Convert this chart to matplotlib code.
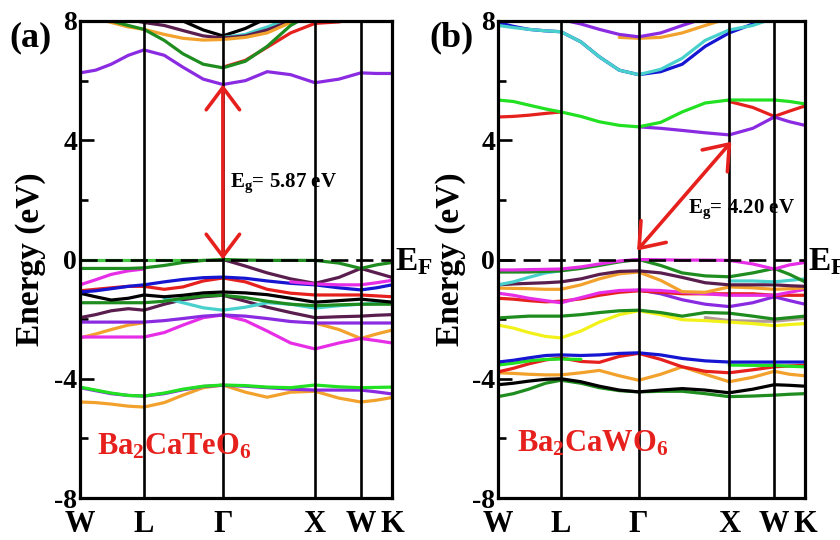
import numpy as np
import matplotlib.pyplot as plt
from matplotlib.ticker import MultipleLocator

plt.rcParams['font.family'] = 'Liberation Serif'
plt.rcParams['font.weight'] = 'bold'
plt.rcParams['axes.unicode_minus'] = False
plt.rcParams['mathtext.fontset'] = 'custom'
plt.rcParams['mathtext.rm'] = 'Liberation Serif:bold'
plt.rcParams['mathtext.it'] = 'Liberation Serif:bold'
plt.rcParams['mathtext.bf'] = 'Liberation Serif:bold'

nan = np.nan

# k-path sample points (W L G X W K at 0, 0.205, 0.458, 0.753, 0.90, 1.0)
k = [0, 0.05, 0.10, 0.155, 0.205, 0.27, 0.33, 0.395, 0.458, 0.53, 0.60, 0.675, 0.753, 0.83, 0.90, 0.95, 1.0]
sym_k = [0, 0.205, 0.458, 0.753, 0.90, 1.0]
sym_labels = ['W', 'L', 'Γ', 'X', 'W', 'K']

# colours
violet = '#8a2be2'
dgreen = '#1e8c1e'
bgreen = '#22e022'
lgreen = '#44c844'
red = '#e6201c'
orange = '#f2a22c'
maroon = '#5a1e4e'
cyan = '#48d0cc'
magenta = '#e62ee6'
blue = '#1515d2'
yellow = '#f2f21a'
tan = '#b09a9a'

# ---- (a) Ba2CaTeO6 ----
a_violet_c = [6.26, 6.35, 6.55, 6.85, 7.03, 6.85, 6.45, 6.05, 5.87, 6.0, 6.3, 6.2, 5.93, 6.05, 6.26, 6.24, 6.24]
a_green_c = [8.4, 8.2, 8.0, 7.85, 7.72, 7.35, 6.9, 6.55, 6.43, 6.65, 7.15, 7.85, 8.3, nan, nan, nan, nan]
a_red_c = [nan, nan, nan, nan, nan, nan, nan, nan, 6.45, 6.68, 7.12, 7.6, 7.92, 7.97, 8.1, 8.2, 8.3]
a_orange_c = [8.3, 8.1, 7.95, 7.8, 7.72, 7.55, 7.42, 7.36, 7.38, 7.45, 7.6, 7.95, 8.3, nan, nan, nan, nan]
a_maroon_c = [nan, nan, 8.2, 8.05, 7.95, 7.85, 7.68, 7.5, 7.43, 7.5, 7.7, 8.0, 8.3, nan, nan, nan, nan]
a_black_c = [nan, nan, nan, nan, nan, 8.2, 8.0, 7.7, 7.5, 7.75, 8.1, nan, nan, nan, nan, nan, nan]
a_cyan_c = [nan, nan, nan, nan, nan, nan, nan, nan, 7.45, 7.55, 7.8, 8.1, nan, nan, nan, nan, nan]

a_lgreen_v = [-0.03, -0.03, -0.03, -0.03, -0.03, -0.03, -0.03, -0.03, nan, nan, nan, nan, nan, nan, nan, nan, nan]
a_green_v = [-0.3, -0.3, -0.3, -0.3, -0.28, -0.2, -0.1, -0.03, 0.0, -0.02, -0.03, -0.03, -0.03, -0.12, -0.3, -0.18, -0.1]
a_magenta_v = [-0.85, -0.68, -0.5, -0.38, -0.32, nan, nan, nan, nan, nan, nan, -0.75, -0.82, -0.85, -0.85, -0.78, -0.7]
a_maroon_v = [nan, nan, nan, nan, nan, nan, nan, nan, 0.0, -0.22, -0.45, -0.65, -0.8, -0.6, -0.3, -0.45, -0.6]
a_blue_v = [-1.09, -1.05, -0.98, -0.9, -0.85, -0.75, -0.67, -0.61, -0.59, -0.63, -0.72, -0.8, -0.85, -0.95, -1.02, -0.95, -0.85]
a_red_v = [-1.05, -1.0, -0.95, -0.9, -0.9, -1.0, -0.92, -0.72, -0.62, -0.75, -1.0, -1.13, -1.19, -1.19, -1.19, -1.22, -1.25]
a_black_v = [-1.13, -1.25, -1.36, -1.3, -1.19, -1.25, -1.2, -1.12, -1.09, -1.12, -1.18, -1.3, -1.43, -1.38, -1.33, -1.38, -1.43]
a_green_v2 = [-1.45, -1.45, -1.45, -1.45, -1.45, -1.4, -1.3, -1.22, -1.2, -1.28, -1.4, -1.5, -1.55, -1.52, -1.5, -1.5, -1.5]
a_cyan_v = [nan, nan, nan, nan, nan, -1.3, -1.45, -1.62, -1.7, -1.6, -1.45, -1.5, -1.63, -1.55, -1.5, -1.47, -1.45]
a_maroon_v2 = [-1.95, -1.85, -1.72, -1.65, -1.7, -1.5, -1.35, -1.25, -1.2, -1.4, -1.6, -1.78, -1.95, -1.92, -1.9, -1.87, -1.85]
a_violet_v = [-2.1, -2.1, -2.1, -2.1, -2.1, -2.05, -1.98, -1.9, -1.86, -1.9, -1.98, -2.08, -2.13, -2.13, -2.13, -2.13, -2.13]
a_magenta_v2 = [-2.6, -2.6, -2.6, -2.6, -2.6, -2.45, -2.2, -1.95, -1.86, -2.05, -2.4, -2.8, -3.0, -2.8, -2.65, -2.72, -2.8]
a_orange_v = [-2.63, -2.5, -2.35, -2.2, -2.12, nan, nan, nan, nan, nan, nan, nan, -2.13, -2.35, -2.65, -2.5, -2.37]
a_violet_v2 = [-4.3, -4.4, -4.5, -4.56, -4.58, -4.5, -4.37, -4.26, -4.22, -4.25, -4.3, -4.35, -4.38, -4.38, -4.38, -4.44, -4.51]
a_bgreen_v = [-4.28, -4.38, -4.48, -4.56, -4.58, -4.48, -4.35, -4.25, -4.21, -4.23, -4.28, -4.3, -4.21, -4.27, -4.3, -4.29, -4.28]
a_orange_v2 = [-4.78, -4.8, -4.85, -4.92, -4.95, -4.8, -4.55, -4.3, -4.21, -4.45, -4.62, -4.45, -4.42, -4.65, -4.78, -4.72, -4.63]

bands_a = [
    (a_black_c, 'k'), (a_cyan_c, cyan), (a_maroon_c, maroon), (a_orange_c, orange),
    (a_red_c, red), (a_green_c, dgreen), (a_violet_c, violet),
    (a_lgreen_v, lgreen), (a_orange_v, orange), (a_magenta_v2, magenta), (a_violet_v, violet),
    (a_maroon_v2, maroon), (a_cyan_v, cyan), (a_green_v2, dgreen), (a_black_v, 'k'),
    (a_red_v, red), (a_blue_v, blue), (a_maroon_v, maroon), (a_magenta_v, magenta),
    (a_green_v, dgreen), (a_orange_v2, orange), (a_violet_v2, violet), (a_bgreen_v, bgreen),
]

# ---- (b) Ba2CaWO6 ----
b_blue_c = [7.95, 7.82, 7.72, 7.67, 7.64, 7.3, 6.8, 6.35, 6.2, 6.3, 6.55, 7.15, 7.6, 7.9, 8.1, nan, nan]
b_cyan_c = [7.85, 7.78, 7.72, 7.67, 7.64, 7.3, 6.8, 6.35, 6.2, 6.38, 6.75, 7.35, 7.7, 7.85, 8.1, nan, nan]
b_violet_c2 = [nan, nan, nan, 8.2, 8.05, 7.9, 7.72, 7.55, 7.47, 7.6, 7.85, 8.1, nan, nan, nan, nan, nan]
b_orange_c = [nan, nan, nan, nan, nan, nan, nan, 7.45, 7.42, 7.45, 7.6, 7.85, 8.1, nan, nan, nan, nan]
b_red_c = [4.78, 4.8, 4.84, 4.9, 4.95, nan, nan, nan, nan, nan, nan, nan, 5.3, 5.1, 4.8, 4.98, 5.15]
b_violet_c = [nan, nan, nan, nan, nan, nan, nan, nan, 4.45, 4.4, 4.33, 4.25, 4.18, 4.4, 4.78, 4.62, 4.5]
b_bgreen_c = [5.35, 5.3, 5.18, 5.05, 4.95, 4.8, 4.62, 4.5, 4.45, 4.6, 4.95, 5.25, 5.35, 5.35, 5.35, 5.3, 5.22]

b_magenta_v = [-0.35, -0.35, -0.34, -0.33, -0.32, -0.25, -0.15, -0.05, 0.0, -0.01, -0.02, -0.02, -0.03, -0.15, -0.32, -0.18, -0.1]
b_green_v = [-0.42, -0.42, -0.42, -0.4, -0.38, -0.3, -0.2, -0.08, 0.0, -0.2, -0.45, -0.55, -0.58, -0.45, -0.3, -0.5, -0.75]
b_cyan_v = [-0.85, -0.75, -0.6, -0.45, -0.38, nan, nan, nan, nan, nan, nan, nan, -0.72, -0.72, -0.75, -0.7, -0.65]
b_maroon_v = [-0.85, -0.82, -0.8, -0.78, -0.75, -0.65, -0.5, -0.4, -0.38, -0.45, -0.6, -0.78, -0.85, -0.85, -0.85, -0.88, -0.9]
b_orange_v = [-0.96, -0.97, -0.98, -1.0, -1.0, -0.85, -0.65, -0.48, -0.42, -0.7, -1.08, -1.1, -0.92, -0.95, -1.0, -0.98, -0.95]
b_magenta_v2 = [-1.13, -1.2, -1.3, -1.38, -1.45, -1.28, -1.12, -1.04, -1.02, -1.04, -1.1, -1.15, -1.2, -1.2, -1.2, -1.1, -1.0]
b_red_v = [-1.3, -1.33, -1.38, -1.42, -1.4, -1.32, -1.2, -1.1, -1.05, -1.1, -1.15, -1.15, -1.15, -1.15, -1.2, -1.2, -1.2]
b_violet_v = [nan, nan, nan, nan, nan, nan, nan, nan, -1.02, -1.15, -1.35, -1.5, -1.58, -1.45, -1.25, -1.38, -1.5]
b_dgreen_v = [-1.96, -1.93, -1.9, -1.9, -1.9, -1.85, -1.78, -1.72, -1.7, -1.78, -1.9, -1.78, -1.8, -1.9, -2.0, -1.95, -1.9]
b_tan_v = [nan, nan, nan, nan, nan, nan, nan, nan, nan, nan, nan, -1.95, -2.05, -2.07, -2.07, -2.02, -1.97]
b_yellow_v = [-2.2, -2.3, -2.45, -2.58, -2.63, -2.4, -2.1, -1.85, -1.72, -1.85, -2.02, -2.05, -2.1, -2.15, -2.22, -2.18, -2.15]
b_blue_v = [-3.44, -3.38, -3.3, -3.22, -3.2, -3.22, -3.2, -3.15, -3.13, -3.2, -3.32, -3.4, -3.44, -3.44, -3.44, -3.44, -3.44]
b_bgreen_v = [-3.54, -3.48, -3.4, -3.35, -3.34, -3.35, nan, nan, nan, nan, nan, nan, -3.54, -3.55, -3.55, -3.58, -3.6]
b_red_v2 = [-3.77, -3.65, -3.5, -3.37, -3.3, -3.42, -3.45, -3.25, -3.15, -3.35, -3.6, -3.75, -3.8, -3.7, -3.6, -3.57, -3.55]
b_orange_v2 = [-3.8, -3.82, -3.85, -3.87, -3.87, -3.8, -3.72, -3.9, -4.05, -3.85, -3.6, -3.85, -4.1, -3.95, -3.75, -3.85, -3.9]
b_black_v = [-4.2, -4.15, -4.08, -4.02, -4.0, -4.1, -4.25, -4.38, -4.44, -4.38, -4.33, -4.38, -4.47, -4.35, -4.2, -4.22, -4.25]
b_dgreen_v2 = [-4.6, -4.5, -4.35, -4.15, -4.05, -4.15, -4.3, -4.4, -4.44, -4.42, -4.42, -4.5, -4.6, -4.58, -4.55, -4.52, -4.5]

bands_b = [
    (b_orange_c, orange), (b_violet_c2, violet), (b_blue_c, blue), (b_cyan_c, cyan),
    (b_red_c, red), (b_violet_c, violet), (b_bgreen_c, bgreen),
    (b_tan_v, tan), (b_yellow_v, yellow), (b_dgreen_v, dgreen), (b_violet_v, violet),
    (b_red_v, red), (b_magenta_v2, magenta), (b_orange_v, orange), (b_maroon_v, maroon),
    (b_cyan_v, cyan), (b_green_v, dgreen), (b_magenta_v, magenta),
    (b_dgreen_v2, dgreen), (b_black_v, 'k'), (b_orange_v2, orange), (b_red_v2, red),
    (b_bgreen_v, bgreen), (b_blue_v, blue),
]

gap_a = 5.87
gap_b = 4.20


def draw_panel(ax, bands, letter, compound, comp_xy, gap, arrow_from, arrow_to, gap_xy, label_x):
    for vals, col in bands:
        ax.plot(k, vals, color=col, lw=2.3, solid_joinstyle='round', solid_capstyle='round')
    for x in sym_k[1:-1]:
        ax.axvline(x, color='k', lw=1.9, zorder=3)
    ax.axhline(0, color='k', lw=1.9, linestyle=(0, (6.5, 3)), zorder=4)

    ax.set_xlim(0, 1)
    ax.set_ylim(-8, 8)
    ax.set_xticks(sym_k)
    ax.set_xticklabels(sym_labels)
    ax.set_yticks([-8, -4, 0, 4, 8])
    ax.yaxis.set_minor_locator(MultipleLocator(2))
    ax.tick_params(axis='x', length=0, labelsize=22, pad=9)
    ax.tick_params(axis='y', which='major', direction='in', length=10, width=1.9, labelsize=20, pad=2)
    ax.tick_params(axis='y', which='minor', direction='in', length=6, width=1.9)
    for s in ax.spines.values():
        s.set_linewidth(2.3)

    ax.set_ylabel('Energy (eV)', fontsize=24, fontweight='bold')
    ax.yaxis.set_label_coords(label_x, 0.5)

    ax.text(-0.225, 1.0, letter, transform=ax.transAxes, fontsize=26, va='top', ha='left')
    trans = ax.get_yaxis_transform()
    ax.text(1.01, -0.35, r'E$_\mathrm{F}$', transform=trans, fontsize=24, va='baseline')

    ax.text(comp_xy[0], comp_xy[1], compound, color=red, fontsize=22)

    ax.annotate('', xy=arrow_to, xytext=arrow_from,
                arrowprops=dict(arrowstyle='<->,head_length=1.0,head_width=0.75', color=red,
                                lw=2.6, mutation_scale=16, shrinkA=0, shrinkB=0),
                zorder=6)
    ax.text(gap_xy[0], gap_xy[1], r'E$_\mathrm{g}$= %.2f eV' % gap, fontsize=15)


fig = plt.figure(figsize=(8.4, 5.4), dpi=100)
ax_a = fig.add_axes([80 / 840, 42 / 540, 312 / 840, 477 / 540])
ax_b = fig.add_axes([498 / 840, 42 / 540, 307 / 840, 477 / 540])

draw_panel(ax_a, bands_a, '(a)', r'Ba$_2$CaTeO$_6$', (0.054, -6.55), gap_a,
           (0.458, 0.0), (0.458, gap_a), (0.481, 2.43), -0.11)
draw_panel(ax_b, bands_b, '(b)', r'Ba$_2$CaWO$_6$', (0.062, -6.45), gap_b,
           (0.453, 0.3), (0.76, 3.95), (0.619, 1.55), -0.105)

fig.savefig('out.png', dpi=100)
